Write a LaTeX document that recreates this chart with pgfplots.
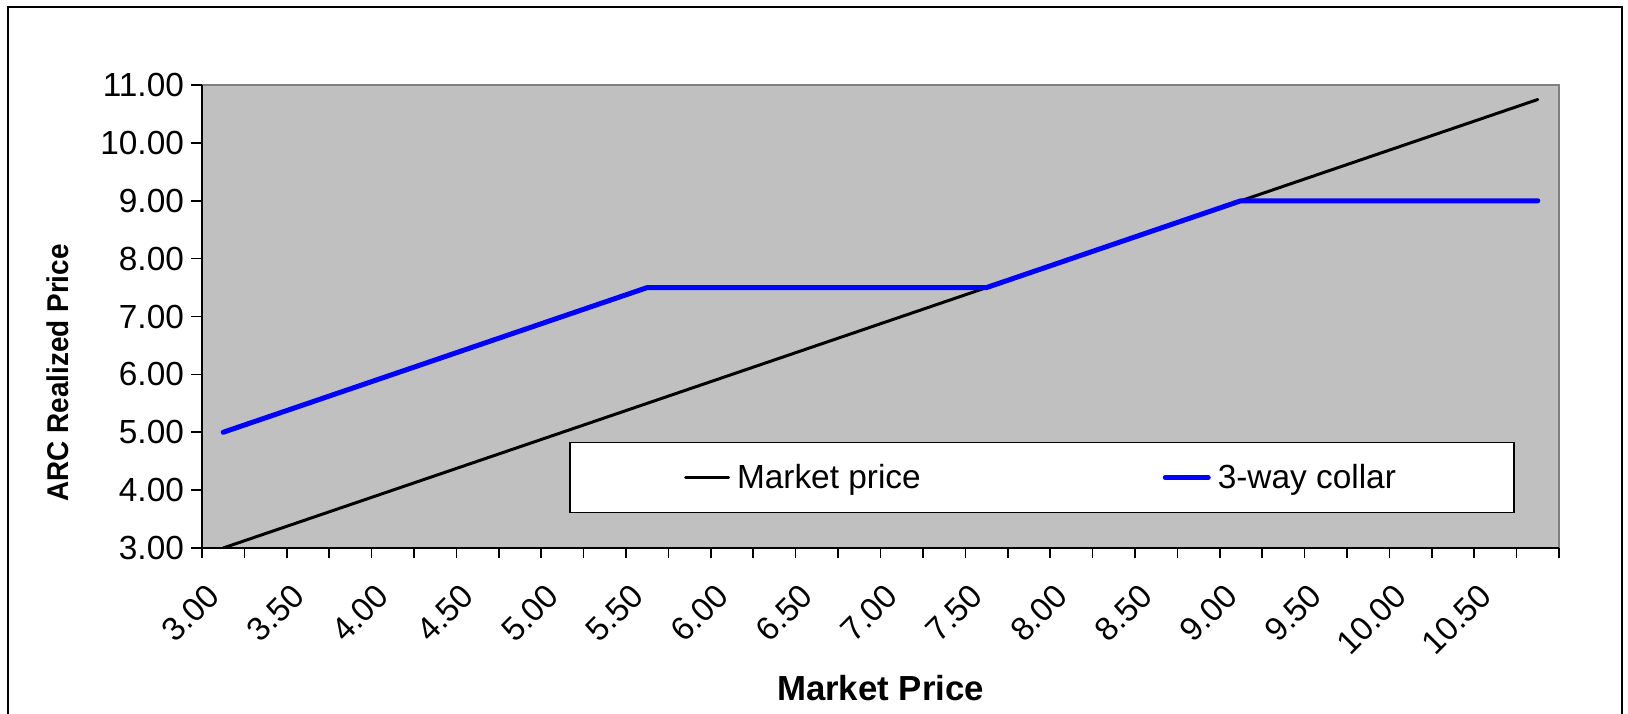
\documentclass[border=0pt]{standalone}
\usepackage{pgfplots}
\usepackage{pgfplotstable}
\pgfplotsset{compat=1.18}
\usepackage{fontspec}
\setmainfont{Liberation Sans}
\newfontfamily\ylabfont{Liberation Sans}[FakeStretch=0.93]
\definecolor{plotgray}{RGB}{192,192,192}
\definecolor{framegray}{RGB}{128,128,128}
\pgfplotstableread{
idx market collar
0 3.00 5.00
1 3.25 5.25
2 3.50 5.50
3 3.75 5.75
4 4.00 6.00
5 4.25 6.25
6 4.50 6.50
7 4.75 6.75
8 5.00 7.00
9 5.25 7.25
10 5.50 7.50
11 5.75 7.50
12 6.00 7.50
13 6.25 7.50
14 6.50 7.50
15 6.75 7.50
16 7.00 7.50
17 7.25 7.50
18 7.50 7.50
19 7.75 7.75
20 8.00 8.00
21 8.25 8.25
22 8.50 8.50
23 8.75 8.75
24 9.00 9.00
25 9.25 9.00
26 9.50 9.00
27 9.75 9.00
28 10.00 9.00
29 10.25 9.00
30 10.50 9.00
31 10.75 9.00
}\datatable
\begin{document}
\begin{tikzpicture}
\useasboundingbox (0,0) rectangle (814pt,356.5pt);
\draw[line width=1pt] (4pt,-20pt) -- (4pt,353pt) -- (811pt,353pt) -- (811pt,-20pt);
\begin{axis}[
  at={(101pt,82.5pt)}, anchor=south west,
  scale only axis, width=678.5pt, height=231.5pt,
  xmin=-0.5, xmax=31.5, ymin=3, ymax=11,
  axis lines*=left,
  axis line style={black, line width=0.8pt, -},
  axis background/.style={fill=plotgray, draw=framegray, line width=0.8pt},
  tick align=outside,
  tick style={black, line width=0.8pt},
  major tick length=5.5pt,
  minor tick length=5pt,
  ytick={3,4,5,6,7,8,9,10,11},
  yticklabels={3.00,4.00,5.00,6.00,7.00,8.00,9.00,10.00,11.00},
  xtick={0,2,4,6,8,10,12,14,16,18,20,22,24,26,28,30},
  xticklabels={3.00,3.50,4.00,4.50,5.00,5.50,6.00,6.50,7.00,7.50,8.00,8.50,9.00,9.50,10.00,10.50},
  minor xtick={-0.5,0.5,...,31.5},
  major x tick style={draw=none},
  xticklabel style={rotate=45, anchor=east, xshift=-11pt, yshift=-7.5pt, font=\fontsize{16.5}{19}\selectfont},
  yticklabel style={font=\fontsize{16.7}{19}\selectfont},
  xlabel={Market Price},
  xlabel style={at={(axis description cs:0.5,-0.302)}, anchor=center, font=\bfseries\fontsize{17.4}{20}\selectfont},
  ylabel={ARC Realized Price},
  ylabel style={at={(axis description cs:-0.106,0.378)}, anchor=center, font=\ylabfont\bfseries\fontsize{15}{18}\selectfont},
  legend image code/.code={\draw[#1] (0pt,0pt) -- (21.5pt,0pt); \path (23pt,0pt);},
  legend style={at={(axis description cs:0.619,0.152)}, anchor=center, draw=black, line width=0.6pt, fill=white,
    inner xsep=57pt, inner ysep=8.75pt, legend columns=2, font=\fontsize{16.7}{19}\selectfont,
    /tikz/every even column/.append style={column sep=119pt}},
  legend cell align=left,
]
\addplot[black, line width=1.5pt, line join=round, line cap=round] table[x=idx,y=market]{\datatable};
\addlegendentry{Market price}
\addplot[blue, line width=2.5pt, line join=round, line cap=round] table[x=idx,y=collar]{\datatable};
\addlegendentry{3-way collar}
\end{axis}
\end{tikzpicture}
\end{document}
